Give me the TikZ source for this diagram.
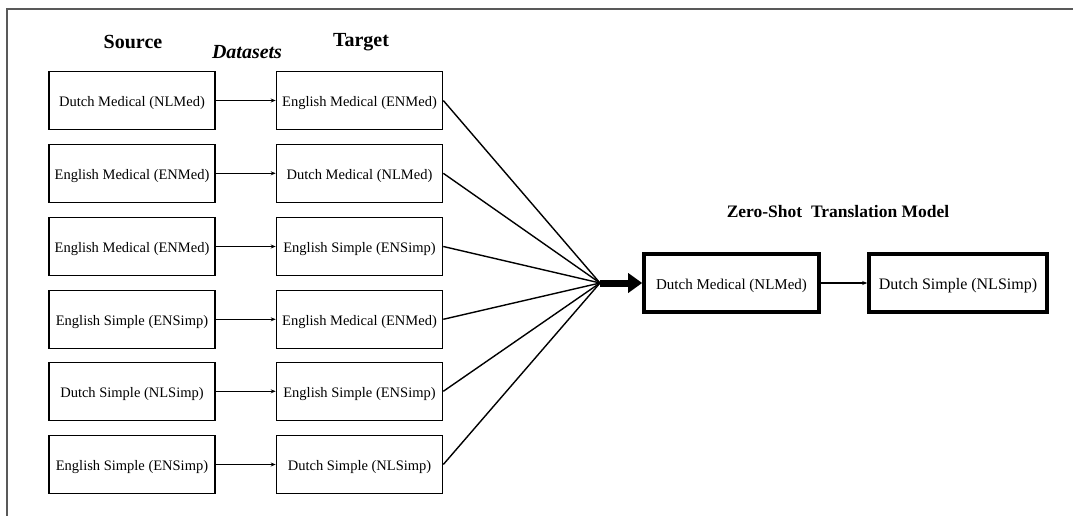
\documentclass[tikz,border=0pt]{standalone}
\usepackage{fontspec}
\setmainfont{Liberation Serif}
\usetikzlibrary{arrows.meta}
\begin{document}
\begin{tikzpicture}[x=1pt,y=-1pt,
  dbox/.style={draw, line width=1.6pt, minimum width=166pt, minimum height=58pt, inner sep=0pt, text height=12pt, text depth=0pt, font=\fontsize{14.5}{17}\selectfont},
  mbox/.style={draw, line width=3.6pt, minimum height=58pt, inner sep=0pt, text height=12.5pt, text depth=0pt},
  pair/.style={line width=1.2pt, -{Stealth[length=5pt,width=4pt]}},
  feed/.style={line width=1.4pt},
  head/.style={font=\fontsize{20}{24}\selectfont\bfseries},
  frame/.style={line width=2pt, draw=black!65}]
\useasboundingbox (0,0) rectangle (1073,516);
\coordinate (ftl) at (7,9);
\coordinate (ftr) at (1073,9);
\coordinate (fbl) at (7,516);
\draw[frame] (ftr) -- (ftl) -- (fbl);

\node[head] (src) at (133,42) {Source};
\node[head, font=\fontsize{20}{24}\selectfont\bfseries\itshape] (ds) at (247,52) {Datasets};
\node[head] (tgt) at (361,42) {Target};

\node[dbox] (s1) at (132,100.5) {Dutch Medical (NLMed)};
\node[dbox] (s2) at (132,173.3) {English Medical (ENMed)};
\node[dbox] (s3) at (132,246.5) {English Medical (ENMed)};
\node[dbox] (s4) at (132,319.3) {English Simple (ENSimp)};
\node[dbox] (s5) at (132,391.3) {Dutch Simple (NLSimp)};
\node[dbox] (s6) at (132,464.5) {English Simple (ENSimp)};

\node[dbox] (t1) at (359.5,100.5) {English Medical (ENMed)};
\node[dbox] (t2) at (359.5,173.3) {Dutch Medical (NLMed)};
\node[dbox] (t3) at (359.5,246.5) {English Simple (ENSimp)};
\node[dbox] (t4) at (359.5,319.3) {English Medical (ENMed)};
\node[dbox] (t5) at (359.5,391.3) {English Simple (ENSimp)};
\node[dbox] (t6) at (359.5,464.5) {Dutch Simple (NLSimp)};

\foreach \i in {1,...,6} {\draw[pair] (s\i) -- (t\i);}

\coordinate (conv) at (600,283);
\foreach \i in {1,...,6} {\draw[feed] (t\i.east) -- (conv);}

\node[font=\fontsize{17.5}{21}\selectfont\bfseries] (title) at (838,212) {Zero-Shot\ \ Translation Model};

\node[mbox, minimum width=175pt, font=\fontsize{15}{18}\selectfont] (m1) at (731.5,283) {Dutch Medical (NLMed)};
\node[mbox, minimum width=178pt, font=\fontsize{16}{19}\selectfont] (m2) at (958,283) {Dutch Simple (NLSimp)};

\draw[line width=7pt, -{Triangle[length=14pt,width=19pt]}] (conv) -- (m1.west);
\draw[pair] (m1) -- (m2);
\end{tikzpicture}
\end{document}
